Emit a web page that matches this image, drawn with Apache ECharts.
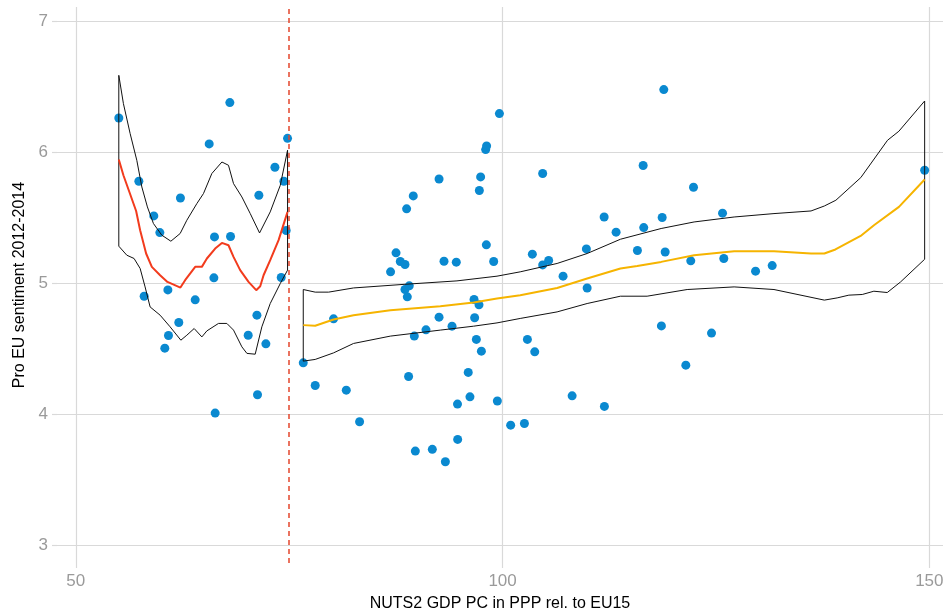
<!DOCTYPE html>
<html>
<head>
<meta charset="utf-8">
<script src="https://cdn.jsdelivr.net/npm/echarts@6/dist/echarts.min.js"></script>
<style>
html, body { margin: 0; padding: 0; background: #fff; }
#chart { width: 947px; height: 614px; }
</style>
</head>
<body>
<div id="chart"></div>
<script>
// tick labels
const xTicks = [50, 100, 150]
const yTicks = [3, 4, 5, 6, 7]
const cutoff = 75

// regions below the 75% threshold
const leftPoints = [
  [55.04, 6.264], [68.05, 6.382], [65.63, 6.066], [74.81, 6.109], [57.39, 5.781],
  [73.33, 5.888], [74.38, 5.781], [62.26, 5.653], [71.45, 5.674], [59.14, 5.516],
  [59.85, 5.389], [66.25, 5.356], [68.13, 5.359], [74.65, 5.405], [66.18, 5.043],
  [74.07, 5.046], [58.01, 4.903], [60.79, 4.951], [63.99, 4.875], [71.22, 4.758],
  [62.07, 4.702], [60.86, 4.603], [70.20, 4.605], [60.43, 4.506], [72.27, 4.539],
  [71.29, 4.150], [66.33, 4.010]
]

// regions above the threshold
const rightPoints = [
  [76.65, 4.394], [78.05, 4.221], [80.20, 4.730], [81.69, 4.185], [83.25, 3.944],
  [86.88, 5.089], [87.52, 5.234], [88.02, 5.168], [88.57, 5.145], [88.57, 4.954],
  [88.76, 5.570], [88.84, 4.898], [88.99, 4.290], [89.07, 4.982], [89.54, 5.669],
  [89.66, 4.598], [89.78, 3.720], [91.03, 4.646], [91.77, 3.733], [92.56, 5.798],
  [92.56, 4.743], [93.14, 5.170], [93.30, 3.638], [94.08, 4.674], [94.58, 5.163],
  [94.72, 4.079], [94.74, 3.809], [95.98, 4.321], [96.18, 4.134], [96.66, 4.878],
  [96.73, 4.738], [96.93, 4.573], [97.24, 4.837], [97.28, 5.710], [97.43, 5.814],
  [97.52, 4.483], [98.02, 6.023], [98.13, 6.050], [98.10, 5.295], [98.96, 5.168],
  [99.39, 4.102], [99.63, 6.298], [100.95, 3.918], [102.56, 3.931], [102.91, 4.573],
  [103.49, 5.224], [103.77, 4.478], [104.70, 5.142], [104.70, 5.840], [105.40, 5.176],
  [107.09, 5.056], [108.15, 4.142], [109.82, 5.264], [109.91, 4.966], [111.90, 5.508],
  [111.93, 4.061], [113.30, 5.392], [115.80, 5.252], [116.47, 5.901], [116.54, 5.427],
  [118.61, 4.676], [118.70, 5.504], [118.89, 6.481], [119.05, 5.241], [121.47, 4.376],
  [122.05, 5.173], [122.37, 5.735], [124.48, 4.621], [125.77, 5.537], [125.92, 5.191],
  [129.64, 5.094], [131.59, 5.137], [149.45, 5.865]
]

// smoothed fit and band, left side
const leftFit = [
  [55.04, 5.947], [55.58, 5.827], [56.28, 5.699], [57.07, 5.554], [57.54, 5.407],
  [58.24, 5.229], [58.91, 5.127], [59.88, 5.063], [60.74, 5.012], [62.26, 4.969],
  [62.81, 5.025], [63.99, 5.127], [64.77, 5.127], [65.36, 5.191], [66.33, 5.267],
  [67.12, 5.310], [67.89, 5.292], [68.48, 5.203], [69.26, 5.102], [70.24, 5.012],
  [71.14, 4.949], [71.61, 4.979], [72.00, 5.063], [72.78, 5.178], [73.76, 5.331],
  [74.81, 5.547]
]
const leftUpper = [
  [55.04, 6.590], [55.58, 6.374], [56.37, 6.145], [57.15, 5.941], [57.74, 5.737],
  [58.39, 5.585], [59.10, 5.458], [60.08, 5.369], [61.14, 5.323], [62.23, 5.382],
  [63.01, 5.483], [64.19, 5.611], [64.96, 5.687], [65.94, 5.840], [67.12, 5.928],
  [67.89, 5.903], [68.48, 5.763], [69.46, 5.661], [70.44, 5.534], [71.53, 5.386],
  [72.78, 5.547], [73.96, 5.750], [74.81, 6.018]
]
const leftLower = [
  [55.04, 5.285], [55.98, 5.216], [56.83, 5.191], [57.54, 5.115], [58.12, 4.974],
  [58.71, 4.821], [59.88, 4.758], [61.05, 4.669], [62.31, 4.567], [63.01, 4.605],
  [63.87, 4.656], [64.77, 4.592], [65.36, 4.638], [66.72, 4.695], [67.70, 4.695],
  [68.48, 4.644], [69.46, 4.516], [70.05, 4.466], [71.02, 4.460], [71.80, 4.669],
  [72.78, 4.847], [73.96, 5.000], [74.81, 5.102]
]

// smoothed fit and band, right side
const rightFit = [
  [76.65, 4.682], [78.05, 4.677], [80.20, 4.725], [82.54, 4.758], [86.85, 4.796],
  [92.71, 4.827], [96.61, 4.855], [99.35, 4.885], [102.07, 4.911], [106.39, 4.966],
  [109.91, 5.038], [113.81, 5.114], [115.77, 5.134], [118.58, 5.165], [122.44, 5.216],
  [127.13, 5.247], [131.80, 5.247], [136.14, 5.229], [137.70, 5.229], [139.00, 5.260],
  [141.95, 5.363], [143.51, 5.445], [146.44, 5.585], [149.45, 5.794]
]
const rightUpper = [
  [76.65, 4.954], [78.05, 4.934], [79.62, 4.934], [82.54, 4.966], [88.80, 4.995],
  [94.66, 5.020], [99.35, 5.056], [102.07, 5.089], [106.39, 5.153], [109.91, 5.229],
  [113.81, 5.338], [118.58, 5.420], [122.44, 5.470], [127.13, 5.508], [131.80, 5.534],
  [136.14, 5.554], [137.70, 5.592], [139.05, 5.636], [141.97, 5.809], [145.10, 6.094],
  [146.43, 6.163], [149.45, 6.394]
]
const rightLower = [
  [76.65, 4.407], [78.05, 4.420], [80.20, 4.470], [82.54, 4.542], [86.85, 4.598],
  [92.71, 4.644], [96.61, 4.674], [99.35, 4.699], [102.07, 4.733], [106.39, 4.783],
  [109.91, 4.847], [113.81, 4.903], [116.94, 4.903], [121.63, 4.954], [127.13, 4.974],
  [131.80, 4.954], [137.70, 4.873], [139.20, 4.890], [140.57, 4.911], [142.14, 4.916],
  [143.50, 4.941], [145.07, 4.931], [146.63, 5.012], [149.45, 5.185]
]

// closed outline: upper edge, then lower edge backwards
function ribbon(upper, lower) {
  return upper.concat(lower.slice().reverse(), [upper[0]])
}

const font = '"Liberation Sans", Arial, sans-serif'
const gridColor = '#d9d9d9'
const pointColor = '#0a89d0'

let myChart = echarts.init(document.getElementById('chart'))
let option = {
  animation: false,
  backgroundColor: '#fff',
  grid: {
    left: 57,
    right: 4,
    top: 7,
    bottom: 51,
    containLabel: false,
    outerBoundsMode: 'none'
  },
  xAxis: {
    type: 'value',
    min: 47.8,
    max: 151.6,
    name: 'NUTS2 GDP PC in PPP rel. to EU15',
    nameLocation: 'middle',
    nameGap: 33,
    nameTextStyle: {color: '#000', fontSize: 16, fontFamily: font},
    axisLine: {show: false},
    axisTick: {show: true, length: 5, customValues: xTicks, lineStyle: {color: gridColor, width: 1.2}},
    axisLabel: {customValues: xTicks, color: '#9a9a9a', fontSize: 17, margin: 10, fontFamily: font},
    splitLine: {show: true, lineStyle: {color: gridColor, width: 1.2}}
  },
  yAxis: {
    type: 'value',
    min: 2.865,
    max: 7.112,
    name: 'Pro EU sentiment 2012-2014',
    nameLocation: 'middle',
    nameGap: 27,
    nameTextStyle: {color: '#000', fontSize: 16, fontFamily: font},
    axisLine: {show: false},
    axisTick: {show: true, length: 5, customValues: yTicks, lineStyle: {color: gridColor, width: 1.2}},
    axisLabel: {customValues: yTicks, color: '#9a9a9a', fontSize: 17, margin: 9, fontFamily: font},
    splitLine: {show: true, lineStyle: {color: gridColor, width: 1.2}}
  },
  series: [
    {
      type: 'scatter',
      data: leftPoints,
      symbolSize: 9,
      itemStyle: {color: pointColor, opacity: 1},
      markLine: {
        silent: true,
        symbol: ['none', 'none'],
        label: {show: false},
        lineStyle: {color: '#e3462c', type: [5, 4], width: 1.5},
        data: [{xAxis: cutoff}]
      }
    },
    {
      type: 'scatter',
      data: rightPoints,
      symbolSize: 9,
      itemStyle: {color: pointColor, opacity: 1}
    },
    {
      type: 'line',
      data: ribbon(leftUpper, leftLower),
      showSymbol: false,
      lineStyle: {color: '#111', width: 1}
    },
    {
      type: 'line',
      data: leftFit,
      showSymbol: false,
      lineStyle: {color: '#f23b1d', width: 2}
    },
    {
      type: 'line',
      data: ribbon(rightUpper, rightLower),
      showSymbol: false,
      lineStyle: {color: '#111', width: 1}
    },
    {
      type: 'line',
      data: rightFit,
      showSymbol: false,
      lineStyle: {color: '#f6b400', width: 2}
    }
  ]
}
myChart.setOption(option)
</script>
</body>
</html>
